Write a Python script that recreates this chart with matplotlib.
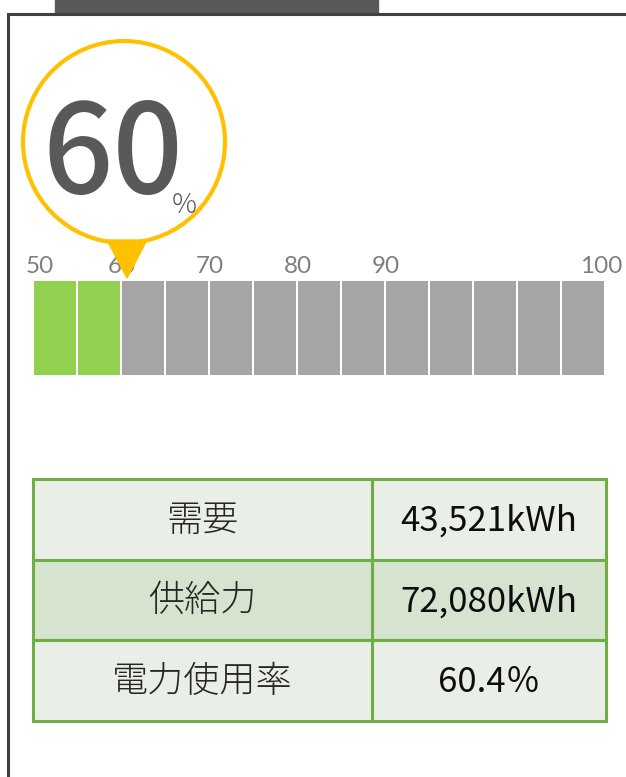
import matplotlib.pyplot as plt
from matplotlib.patches import Circle, Polygon, Rectangle

# gauge data
usage_rate = 60.4
gauge_start = 50
gauge_step = 5
n_segments = 13
tick_labels = ['50', '60', '70', '80', '90', '100']
tick_segments = [0, 2, 4, 6, 8, 13]

# table data
row_labels = ['需要', '供給力', '電力使用率']
row_values = ['43,521kWh', '72,080kWh', '60.4％']
row_colors = ['#E9EFE6', '#D5E3CF', '#E9EFE6']

filled = int((usage_rate - gauge_start) // gauge_step)

fig = plt.figure(figsize=(6.26, 7.77), dpi=100)
ax = fig.add_axes([0, 0, 1, 1])
ax.set_xlim(0, 626)
ax.set_ylim(777, 0)
ax.axis('off')

num_font = ['Lato', 'Noto Sans CJK JP', 'DejaVu Sans']
jp_font = ['Noto Sans CJK JP', 'DejaVu Sans']

# frame and tab
ax.add_patch(Rectangle((55, 0), 323, 13, color='#595959', zorder=1))
ax.plot([8, 8, 640], [790, 14, 14], color='#404040', lw=2.2, solid_joinstyle='miter', zorder=2)

# segmented bar
bar_x0, bar_x1 = 34, 606
bar_top, bar_h = 281, 94
seg_w = (bar_x1 - bar_x0) / n_segments
colors = ['#92D050' if i < filled else '#A5A5A5' for i in range(n_segments)]
lefts = [bar_x0 + i * seg_w for i in range(n_segments)]
ax.bar(lefts, [bar_h] * n_segments, width=seg_w - 2.2, bottom=bar_top,
       align='edge', color=colors, zorder=3)

for lab, s in zip(tick_labels, tick_segments):
    x = bar_x0 + s * seg_w
    if s == 0:
        x += 6
    elif s == n_segments:
        x -= 5
    ax.text(x, 273, lab, ha='center', va='baseline', fontsize=17.5,
            color='#7F7F7F', family=num_font, zorder=4)

# balloon marker
ax.add_patch(Circle((124, 142), 101, facecolor='white', edgecolor='#FFC000',
                    lw=3.0, zorder=5))
px = bar_x0 + (usage_rate // 10 * 10 - gauge_start) / gauge_step * seg_w + 5
ax.add_patch(Polygon([(px - 20, 240), (px + 20, 240), (px, 278)],
                     closed=True, color='#FFC000', zorder=6))
ax.text(113, 193, f'{int(usage_rate // 10 * 10)}', ha='center', va='baseline',
        fontsize=89, color='#595959', family=jp_font, fontweight='medium', zorder=7)
ax.text(184, 213, '%', ha='center', va='baseline', fontsize=20,
        color='#595959', family=jp_font, fontweight='light', zorder=7)

# table
tx0, tx_mid, tx1 = 33, 372, 606
ty0, row_h = 479, 80.7
for i, (lab, val, c) in enumerate(zip(row_labels, row_values, row_colors)):
    y = ty0 + i * row_h
    ax.add_patch(Rectangle((tx0, y), tx1 - tx0, row_h, facecolor=c,
                           edgecolor='#70AD47', lw=2.2, zorder=3))
    ax.text((tx0 + tx_mid) / 2, y + row_h / 2 + 1, lab, ha='center', va='center',
            fontsize=26, color='#262626', family=jp_font, fontweight='light', zorder=4)
    ax.text((tx_mid + tx1) / 2, y + row_h / 2 + 2, val, ha='center', va='center',
            fontsize=25, color='#0D0D0D', family=jp_font, zorder=4)
ax.plot([tx_mid, tx_mid], [ty0, ty0 + 3 * row_h], color='#70AD47', lw=2.2, zorder=4)

fig.savefig('out.png', dpi=100)
